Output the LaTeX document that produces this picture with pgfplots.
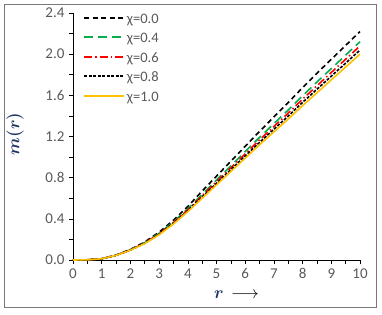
\documentclass[border=0pt]{standalone}
\usepackage{pgfplots}
\pgfplotsset{compat=1.18}
\usepackage{fontspec}
\setmainfont{Carlito}
\usepackage{amsmath,bm}
\definecolor{tickgray}{RGB}{89,89,89}
\definecolor{framegray}{RGB}{120,120,120}
\definecolor{mygreen}{RGB}{0,176,80}
\definecolor{myred}{RGB}{255,0,0}
\definecolor{myyellow}{RGB}{255,192,0}
\definecolor{labblue}{RGB}{31,56,100}
\newcommand{\lgs}{\rule[-4.8pt]{0pt}{16.8pt}}
\begin{document}
\begin{tikzpicture}
\useasboundingbox (-73pt,-54pt) rectangle (309pt,260pt);
\draw[framegray, line width=1pt] (-68pt,-47pt) rectangle (303pt,256pt);
\begin{axis}[
  at={(0pt,0pt)}, anchor=origin,
  scale only axis, width=287pt, height=247pt,
  xmin=0, xmax=10, ymin=0, ymax=2.4,
  axis x line*=bottom, axis y line*=left,
  axis line style={black, line width=0.8pt, -},
  xtick={0,1,...,10}, minor xtick={0.5,1.5,...,9.5},
  ytick={0,0.4,...,2.4}, minor ytick={0.2,0.6,...,2.2},
  yticklabel style={xshift=-1pt, /pgf/number format/.cd, fixed, fixed zerofill, precision=1},
  /pgf/number format/assume math mode=true,
  tick align=outside,
  major tick length=4pt, minor tick length=4pt,
  tick style={black, line width=0.6pt},
  ticklabel style={font=\fontsize{15}{16}\selectfont, text=tickgray},
  xticklabel style={yshift=-1pt},
  xlabel={\color{labblue}$\bm{r}$\ \ \color{black}$\longrightarrow$},
  ylabel={\color{labblue}$\bm{m(r)}$},
  xlabel style={font=\fontsize{16}{18}\selectfont, at={(axis description cs:0.57,0)}, anchor=center, yshift=-35pt},
  ylabel style={font=\fontsize{16}{18}\selectfont, at={(axis description cs:-0.202,0.51)}, anchor=center},
  legend style={at={(axis description cs:0.025,1.025)}, anchor=north west, draw=none, fill=none,
    font=\fontsize{14.5}{16}\selectfont, row sep=2pt, cells={anchor=west}},
  legend image code/.code={\draw[#1] (0pt,0pt) -- (40pt,0pt);},
  every axis plot/.append style={line width=1.6pt},
  clip=false,
]
\addplot[black, dash pattern=on 5pt off 3.5pt] coordinates {
(0,0) (0.5,0.002) (1,0.012) (1.5,0.048) (2,0.103) (2.5,0.175) (3,0.27) (3.5,0.387) (4,0.52) (4.5,0.67) (5,0.815) (5.5,0.96) (6,1.105) (6.5,1.25) (7,1.39) (7.5,1.53) (8,1.675) (8.5,1.815) (9,1.95) (9.5,2.085) (10,2.22)};
\addlegendentry{\textcolor{tickgray}{χ=0.0}\lgs}
\addplot[mygreen, dash pattern=on 9pt off 5pt] coordinates {
(0,0) (0.5,0.002) (1,0.012) (1.5,0.047) (2,0.099) (2.5,0.168) (3,0.259) (3.5,0.37) (4,0.498) (4.5,0.638) (5,0.777) (5.5,0.915) (6,1.053) (6.5,1.192) (7,1.325) (7.5,1.458) (8,1.596) (8.5,1.73) (9,1.86) (9.5,1.991) (10,2.121)};
\addlegendentry{\textcolor{tickgray}{χ=0.4}\lgs}
\addplot[myred, dash pattern=on 8pt off 3pt on 1.5pt off 3pt] coordinates {
(0,0) (0.5,0.002) (1,0.012) (1.5,0.046) (2,0.098) (2.5,0.165) (3,0.254) (3.5,0.363) (4,0.488) (4.5,0.625) (5,0.761) (5.5,0.896) (6,1.031) (6.5,1.167) (7,1.297) (7.5,1.428) (8,1.563) (8.5,1.693) (9,1.822) (9.5,1.951) (10,2.08)};
\addlegendentry{\textcolor{tickgray}{χ=0.6}\lgs}
\addplot[black, dash pattern=on 3pt off 1.5pt] coordinates {
(0,0) (0.5,0.002) (1,0.012) (1.5,0.045) (2,0.096) (2.5,0.163) (3,0.25) (3.5,0.357) (4,0.479) (4.5,0.613) (5,0.745) (5.5,0.878) (6,1.011) (6.5,1.143) (7,1.271) (7.5,1.399) (8,1.532) (8.5,1.659) (9,1.786) (9.5,1.913) (10,2.04)};
\addlegendentry{\textcolor{tickgray}{χ=0.8}\lgs}
\addplot[myyellow, solid] coordinates {
(0,0) (0.5,0.002) (1,0.012) (1.5,0.045) (2,0.095) (2.5,0.16) (3,0.245) (3.5,0.35) (4,0.47) (4.5,0.6) (5,0.73) (5.5,0.86) (6,0.99) (6.5,1.12) (7,1.245) (7.5,1.37) (8,1.5) (8.5,1.625) (9,1.75) (9.5,1.875) (10,2.0)};
\addlegendentry{\textcolor{tickgray}{χ=1.0}\lgs}
\end{axis}
\end{tikzpicture}
\end{document}
